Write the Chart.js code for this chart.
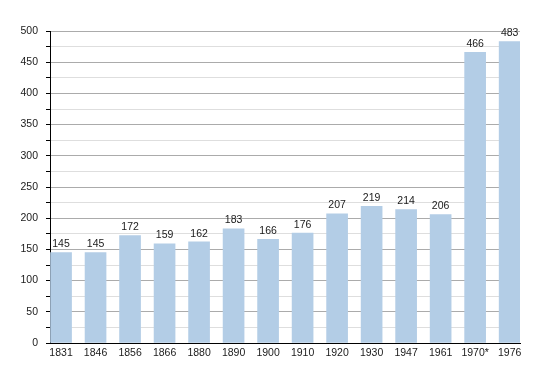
<!DOCTYPE html>
<html>
<head>
<meta charset="utf-8">
<script src="https://cdn.jsdelivr.net/npm/chart.js@4"></script>
<style>
  html, body { margin: 0; padding: 0; background: #fff; }
  #wrap { width: 550px; height: 373px; }
</style>
</head>
<body>
<div id="wrap"><canvas id="chart"></canvas></div>
<script>
// Population by census year
const years = ['1831', '1846', '1856', '1866', '1880', '1890', '1900', '1910', '1920', '1930', '1947', '1961', '1970*', '1976'];
const population = [145, 145, 172, 159, 162, 183, 166, 176, 207, 219, 214, 206, 466, 483];

const barColor = '#b3cde6';
const fontFamily = '"Liberation Sans", Arial, sans-serif';

// Value labels above each bar
const valueLabels = {
    id: 'valueLabels',
    afterDatasetsDraw(chart) {
        const { ctx } = chart;
        const meta = chart.getDatasetMeta(0);
        ctx.save();
        ctx.font = '10.5px ' + fontFamily;
        ctx.fillStyle = '#1a1a1a';
        ctx.textAlign = 'center';
        ctx.textBaseline = 'bottom';
        meta.data.forEach((bar, i) => {
            ctx.fillText(String(population[i]), bar.x, bar.y - 3);
        });
        ctx.restore();
    }
};

const ctx = document.getElementById('chart');

new Chart(ctx, {
    type: 'bar',
    data: {
        datasets: [{
            data: population.map((v, i) => ({ x: i, y: v })),
            backgroundColor: barColor,
            borderWidth: 0,
            barThickness: 21
        }]
    },
    options: {
        responsive: true,
        maintainAspectRatio: false,
        animation: false,
        layout: { padding: { left: 0, right: 30, top: 31, bottom: 0 } },
        plugins: {
            legend: { display: false },
            tooltip: { enabled: false }
        },
        scales: {
            x: {
                type: 'linear',
                offset: false,
                min: -0.32,
                max: 13.3,
                afterBuildTicks: (scale) => {
                    scale.ticks = years.map((_, i) => ({ value: i }));
                },
                afterFit: (scale) => { scale.height = 30; },
                grid: { display: false, drawTicks: false },
                border: { color: '#000', width: 1 },
                ticks: {
                    padding: 4,
                    color: '#1a1a1a',
                    font: { family: fontFamily, size: 10.5 },
                    maxRotation: 0,
                    autoSkip: false,
                    callback: (v) => years[v]
                }
            },
            y: {
                min: 0,
                max: 500,
                afterFit: (scale) => { scale.width = 50; },
                grid: {
                    color: (c) => (c.tick && c.tick.value % 50 === 0) ? '#ababab' : '#dedede',
                    tickColor: '#000',
                    tickLength: 4
                },
                border: { color: '#000', width: 1 },
                ticks: {
                    stepSize: 25,
                    padding: 8,
                    color: '#1a1a1a',
                    font: { family: fontFamily, size: 10.5 },
                    callback: (v) => (v % 50 === 0 ? v : '')
                }
            }
        }
    },
    plugins: [valueLabels]
});
</script>
</body>
</html>
